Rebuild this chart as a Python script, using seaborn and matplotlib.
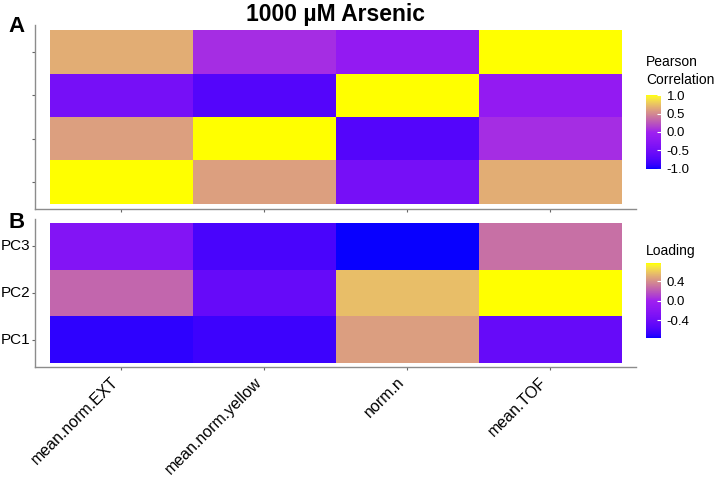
import numpy as np
import pandas as pd
import matplotlib
matplotlib.use("Agg")
import matplotlib.pyplot as plt
import matplotlib.colors as mcolors
import seaborn as sns

# data
features = ["mean.norm.EXT", "mean.norm.yellow", "norm.n", "mean.TOF"]
corr_rows = ["mean.TOF", "norm.n", "mean.norm.yellow", "mean.norm.EXT"]  # top -> bottom
corr_vals = [
    [0.66, 0.05, -0.15, 1.00],
    [-0.45, -0.72, 1.00, -0.15],
    [0.60, 1.00, -0.72, 0.05],
    [1.00, 0.60, -0.45, 0.66],
]
pcs = ["PC3", "PC2", "PC1"]  # top -> bottom
loading_vals = [
    [-0.25, -0.60, -0.76, 0.28],
    [0.25, -0.45, 0.56, 0.77],
    [-0.70, -0.65, 0.45, -0.45],
]
corr_ticks = [-1.0, -0.5, 0.0, 0.5, 1.0]
load_ticks = [-0.4, 0.0, 0.4]

dfA = pd.DataFrame(corr_vals, index=corr_rows, columns=features)
dfB = pd.DataFrame(loading_vals, index=pcs, columns=features)

# blue -> purple -> yellow, interpolated in Lab (roughly like ggplot's gradient2)
M = np.array([[0.4124, 0.3576, 0.1805], [0.2126, 0.7152, 0.0722], [0.0193, 0.1192, 0.9505]])
WHITE = np.array([0.95047, 1.0, 1.08883])


def to_lab(col):
    rgb = np.array(mcolors.to_rgb(col))
    lin = np.where(rgb <= 0.04045, rgb / 12.92, ((rgb + 0.055) / 1.055) ** 2.4)
    xyz = M @ lin / WHITE
    f = np.where(xyz > 0.008856, np.cbrt(xyz), 7.787 * xyz + 16 / 116)
    return np.array([116 * f[1] - 16, 500 * (f[0] - f[1]), 200 * (f[1] - f[2])])


def from_lab(lab):
    fy = (lab[0] + 16) / 116
    f = np.array([fy + lab[1] / 500, fy, fy - lab[2] / 200])
    xyz = np.where(f ** 3 > 0.008856, f ** 3, (f - 16 / 116) / 7.787) * WHITE
    lin = np.clip(np.linalg.solve(M, xyz), 0, 1)
    rgb = np.where(lin <= 0.0031308, 12.92 * lin, 1.055 * lin ** (1 / 2.4) - 0.055)
    return np.clip(rgb, 0, 1)


lo, mid, hi = to_lab("#0000FF"), to_lab("#A020F0"), to_lab("#FFFF00")
cols = []
for t in np.linspace(0, 1, 256):
    if t < 0.5:
        lab = lo + (mid - lo) * (t / 0.5)
    else:
        s = (t - 0.5) / 0.5
        lab = mid + (hi - mid) * s
        lab[0] = mid[0] + (hi[0] - mid[0]) * s ** 1.4  # reference looks darker here
    cols.append(from_lab(lab))
cmap = mcolors.ListedColormap(cols)

plt.rcParams["font.family"] = ["Liberation Sans", "DejaVu Sans"]

fig = plt.figure(figsize=(7.17, 4.8), dpi=100)
axA = fig.add_axes([0.0495, 0.5646, 0.8375, 0.3833])
caxA = fig.add_axes([0.901, 0.648, 0.021, 0.154])
axB = fig.add_axes([0.0495, 0.2354, 0.8375, 0.3083])
caxB = fig.add_axes([0.901, 0.296, 0.021, 0.156])

sns.heatmap(dfA, ax=axA, cmap=cmap, vmin=-1, vmax=1, center=0, cbar_ax=caxA,
            xticklabels=True, yticklabels=True)
sns.heatmap(dfB, ax=axB, cmap=cmap, vmin=dfB.values.min(), vmax=dfB.values.max(),
            center=0, cbar_ax=caxB, xticklabels=True, yticklabels=True)

axA.set_xlim(-0.1, 4.1)
axA.set_ylim(4.115, -0.115)
axB.set_xlim(-0.1, 4.1)
axB.set_ylim(3.086, -0.086)

axA.set_xticklabels([])
axA.set_yticklabels([])
axB.set_yticklabels(pcs, rotation=0, fontsize=11, color="black")
axB.set_xticklabels(features, rotation=45, ha="right", va="top",
                    rotation_mode="default", fontsize=11.5, color="black")

for ax in (axA, axB):
    ax.set_xlabel("")
    ax.set_ylabel("")
    for s in ("left", "bottom"):
        ax.spines[s].set_visible(True)
        ax.spines[s].set_color("#8c8c8c")
        ax.spines[s].set_linewidth(1.0)
    ax.tick_params(color="#666666", length=2.5, width=0.8, pad=1.5)
axB.tick_params(axis="x", pad=3)

for cax, ticks in ((caxA, corr_ticks), (caxB, load_ticks)):
    cax.set_yticks(ticks)
    cax.set_yticklabels([f"{t:.1f}" for t in ticks])
    cax.tick_params(length=3, color="white", direction="in", width=0.8,
                    labelsize=9.5, pad=4, labelcolor="black")
    for sp in cax.spines.values():
        sp.set_visible(False)

fig.text(646 / 717, 1 - 55 / 480, "Pearson\nCorrelation", ha="left", va="top",
         fontsize=10, linespacing=1.4)
fig.text(646 / 717, 1 - 251 / 480, "Loading", ha="left", va="center", fontsize=10)

fig.text(336 / 717, 1 - 15 / 480, "1000 µM Arsenic", ha="center", va="center",
         fontsize=16.5, fontweight="bold")
fig.text(16.5 / 717, 1 - 27 / 480, "A", ha="center", va="center",
         fontsize=16, fontweight="bold")
fig.text(16.5 / 717, 1 - 222 / 480, "B", ha="center", va="center",
         fontsize=16, fontweight="bold")

fig.savefig("out.png", dpi=100)
